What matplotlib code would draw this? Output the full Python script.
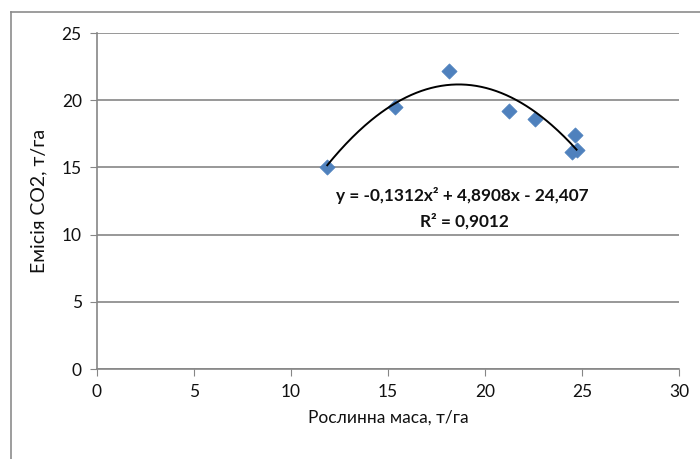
import numpy as np
import matplotlib
matplotlib.use("Agg")
import matplotlib.pyplot as plt
from matplotlib.lines import Line2D

# Data
biomass = [11.87, 15.37, 18.15, 21.26, 22.58, 24.65, 24.48, 24.72]
co2 = [15.05, 19.52, 22.19, 19.23, 18.59, 17.41, 16.18, 16.30]
trend_coef = [-0.1312, 4.8908, -24.407]
r2 = 0.9012
x_ticks = [0, 5, 10, 15, 20, 25, 30]
y_ticks = [0, 5, 10, 15, 20, 25]

plt.rcParams['font.family'] = ['Lato', 'Open Sans', 'DejaVu Sans']

W, H = 700, 459
fig = plt.figure(figsize=(7, 4.59), dpi=100)
ax = fig.add_axes([97 / W, 1 - 369 / H, (679 - 97) / W, (369 - 33) / H])

grid_c = '#868686'
ax.set_xlim(0, 30)
ax.set_ylim(0, 25)
ax.set_xticks(x_ticks)
ax.set_yticks(y_ticks)
ax.yaxis.grid(True, color=grid_c, linewidth=1.2)
ax.set_axisbelow(True)
for s in ['top', 'right']:
    ax.spines[s].set_visible(False)
for s in ['left', 'bottom']:
    ax.spines[s].set_color(grid_c)
    ax.spines[s].set_linewidth(1.2)
ax.tick_params(axis='both', direction='out', length=5, color=grid_c,
               labelsize=12.5, labelcolor='#111111', pad=6)

ax.scatter(biomass, co2, marker='D', s=60, color='#4F81BD', zorder=3,
           edgecolors='#4F81BD', linewidths=0.5)

xs = np.linspace(min(biomass), max(biomass), 200)
ys = np.polyval(trend_coef, xs)
ax.plot(xs, ys, color='black', linewidth=1.4, zorder=4)

def fmt(v):
    return f'{abs(v):g}'.replace('.', ',')

eq = (f'y = -{fmt(trend_coef[0])}x² + {fmt(trend_coef[1])}x - {fmt(trend_coef[2])}')
ax.text(462 / W, 1 - 196 / H, eq,
        transform=fig.transFigure, ha='center', va='center',
        fontsize=12.4, fontweight='bold', color='#111111')
ax.text(464 / W, 1 - 221 / H, f'R² = {fmt(r2)}',
        transform=fig.transFigure, ha='center', va='center',
        fontsize=12.4, fontweight='bold', color='#111111')

ax.set_xlabel('Рослинна маса, т/га', fontsize=12.5, labelpad=7, color='#111111')
ax.set_ylabel('Емісія СО2, т/га', fontsize=14, labelpad=10, color='#111111')

# outer chart border
fig.add_artist(Line2D([11 / W, 1], [1 - 12 / H, 1 - 12 / H],
                      transform=fig.transFigure, color='#8c8c8c', linewidth=1.2))
fig.add_artist(Line2D([11 / W, 11 / W], [0, 1 - 12 / H],
                      transform=fig.transFigure, color='#8c8c8c', linewidth=1.2))

fig.savefig('out.png', dpi=100)
